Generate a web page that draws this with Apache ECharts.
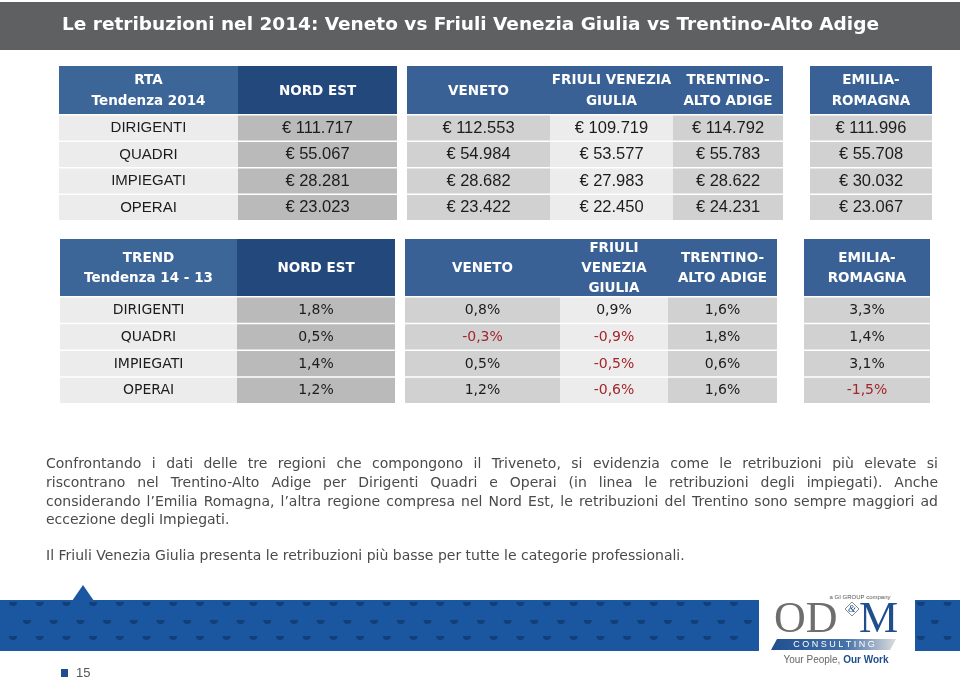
<!DOCTYPE html>
<html>
<head>
<meta charset="utf-8">
<script src="https://cdn.jsdelivr.net/npm/echarts@6/dist/echarts.min.js"></script>
<style>
  html, body { margin: 0; padding: 0; background: #fff; }
  #main { width: 960px; height: 681px; }
</style>
</head>
<body>
<div id="main"></div>
<script>
// dati
const titleText = 'Le retribuzioni nel 2014: Veneto vs Friuli Venezia Giulia vs Trentino-Alto Adige';
const rowLabels = ['DIRIGENTI', 'QUADRI', 'IMPIEGATI', 'OPERAI'];
const rtaCorner = 'RTA\nTendenza 2014';
const trendCorner = 'TREND\nTendenza 14 - 13';
const rtaHeaders = ['NORD EST', 'VENETO', 'FRIULI VENEZIA\nGIULIA', 'TRENTINO-\nALTO ADIGE', 'EMILIA-\nROMAGNA'];
const trendHeaders = ['NORD EST', 'VENETO', 'FRIULI\nVENEZIA\nGIULIA', 'TRENTINO-\nALTO ADIGE', 'EMILIA-\nROMAGNA'];

// RTA 2014 (euro)
const rtaNordEst = [111717, 55067, 28281, 23023];
const rtaVeneto = [112553, 54984, 28682, 23422];
const rtaFriuli = [109719, 53577, 27983, 22450];
const rtaTrentino = [114792, 55783, 28622, 24231];
const rtaEmilia = [111996, 55708, 30032, 23067];

// trend 14 - 13 (%)
const trendNordEst = [1.8, 0.5, 1.4, 1.2];
const trendVeneto = [0.8, -0.3, 0.5, 1.2];
const trendFriuli = [0.9, -0.9, -0.5, -0.6];
const trendTrentino = [1.6, 1.8, 0.6, 1.6];
const trendEmilia = [3.3, 1.4, 3.1, -1.5];

const noteLines = [
  'Confrontando i dati delle tre regioni che compongono il Triveneto, si evidenzia come le retribuzioni più elevate si',
  'riscontrano nel Trentino-Alto Adige per Dirigenti Quadri e Operai (in linea le retribuzioni degli impiegati). Anche',
  'considerando l’Emilia Romagna, l’altra regione compresa nel Nord Est, le retribuzioni del Trentino sono sempre maggiori ad',
  'eccezione degli Impiegati.',
  'Il Friuli Venezia Giulia presenta le retribuzioni più basse per tutte le categorie professionali.'
];
const pageNumber = '15';

// formattazione
const fmtEuro = v => '€ ' + String(v).replace(/\B(?=(\d{3})+(?!\d))/g, '.');
const fmtPct = v => v.toFixed(1).replace('.', ',') + '%';

const BLUE_HEAD = '#3a6196';
const BLUE_DARK = '#23497c';
const NEG = '#a3262c';
const bodyFills = ['#ececec', '#bababa', '#d1d1d1', '#ececec', '#d1d1d1', '#d1d1d1'];
const headFills = ['#3c6598', BLUE_DARK, BLUE_HEAD, BLUE_HEAD, BLUE_HEAD, BLUE_HEAD];

const tables = [
  {
    corner: rtaCorner, headers: rtaHeaders,
    series: [rtaNordEst, rtaVeneto, rtaFriuli, rtaTrentino, rtaEmilia], fmt: fmtEuro,
    headTop: 66, headBottom: 114, bottom: 220, headLine: 21,
    cols: [[59, 238], [238, 397], [407, 550], [550, 673], [673, 783], [810, 932]],
    labelFont: '"Liberation Sans", sans-serif', labelSize: 15,
    valueFont: '"Liberation Sans", sans-serif', valueSize: 16.5
  },
  {
    corner: trendCorner, headers: trendHeaders,
    series: [trendNordEst, trendVeneto, trendFriuli, trendTrentino, trendEmilia], fmt: fmtPct,
    headTop: 239, headBottom: 296, bottom: 403, headLine: 20,
    cols: [[60, 237], [237, 395], [405, 560], [560, 668], [668, 777], [804, 930]],
    labelFont: '"DejaVu Sans", sans-serif', labelSize: 14,
    valueFont: '"DejaVu Sans", sans-serif', valueSize: 14
  }
];

const grids = [], xAxes = [], yAxes = [], series = [];
const elements = [];

// barra del titolo
elements.push({ type: 'rect', shape: { x: 0, y: 2, width: 960, height: 48 }, style: { fill: '#5f6062' }, silent: true });
elements.push({
  type: 'text', x: 62, y: 25,
  style: { text: titleText, fill: '#fff', fontSize: 18.5, fontWeight: 'bold', fontFamily: '"DejaVu Sans", sans-serif', align: 'left', verticalAlign: 'middle' }
});

tables.forEach(t => {
  t.cols.forEach((c, ci) => {
    // intestazione
    elements.push({ type: 'rect', shape: { x: c[0], y: t.headTop, width: c[1] - c[0], height: t.headBottom - t.headTop }, style: { fill: headFills[ci] }, silent: true });
    elements.push({
      type: 'text', x: (c[0] + c[1]) / 2, y: (t.headTop + t.headBottom) / 2 + 1,
      style: {
        text: ci === 0 ? t.corner : t.headers[ci - 1], fill: '#fff', fontSize: 13.5, fontWeight: 'bold',
        fontFamily: '"DejaVu Sans", sans-serif', align: 'center', verticalAlign: 'middle', lineHeight: t.headLine
      }
    });

    // celle: una griglia per colonna, righe su asse a categorie
    const gi = grids.length;
    grids.push({ left: c[0], width: c[1] - c[0], top: t.headBottom, height: t.bottom - t.headBottom });
    xAxes.push({ type: 'category', gridIndex: gi, data: ['c'], show: false });
    yAxes.push({ type: 'category', gridIndex: gi, data: rowLabels, inverse: true, show: false });
    const values = ci === 0 ? rowLabels.map(() => 0) : t.series[ci - 1];
    series.push({
      type: 'custom', xAxisIndex: gi, yAxisIndex: gi, silent: true,
      data: values.map((v, i) => [0, i, v]),
      renderItem: (params, api) => {
        const p = api.coord([api.value(0), api.value(1)]);
        const s = api.size([1, 1]);
        const v = api.value(2);
        const label = ci === 0 ? rowLabels[api.value(1)] : t.fmt(v);
        return {
          type: 'group',
          children: [
            { type: 'rect', shape: { x: p[0] - s[0] / 2, y: p[1] - s[1] / 2 + 1.5, width: s[0], height: s[1] - 1.5 }, style: { fill: bodyFills[ci] } },
            {
              type: 'text', x: p[0], y: p[1] + 1,
              style: {
                text: label, fill: ci > 0 && v < 0 ? NEG : '#1c1c1c',
                fontSize: ci === 0 ? t.labelSize : t.valueSize,
                fontFamily: ci === 0 ? t.labelFont : t.valueFont,
                align: 'center', verticalAlign: 'middle'
              }
            }
          ]
        };
      }
    });
  });
});

// testo di commento, giustificato
const paraFont = '"DejaVu Sans", sans-serif';
const paraSize = 14;
const measure = document.createElement('canvas').getContext('2d');
measure.font = paraSize + 'px ' + paraFont;
const paraLeft = 46, paraRight = 938;
const lineY = [464, 483, 502, 520, 556];
const justified = [true, true, true, false, false];
noteLines.forEach((ln, li) => {
  if (!justified[li]) {
    elements.push({ type: 'text', x: paraLeft, y: lineY[li], style: { text: ln, fill: '#4a4a4a', fontSize: paraSize, fontFamily: paraFont, align: 'left', verticalAlign: 'middle' } });
    return;
  }
  const words = ln.split(' ');
  const widths = words.map(w => measure.measureText(w).width);
  const total = widths.reduce((a, b) => a + b, 0);
  const gap = (paraRight - paraLeft - total) / (words.length - 1);
  let x = paraLeft;
  words.forEach((w, wi) => {
    elements.push({ type: 'text', x: x, y: lineY[li], style: { text: w, fill: '#4a4a4a', fontSize: paraSize, fontFamily: paraFont, align: 'left', verticalAlign: 'middle' } });
    x += widths[wi] + gap;
  });
});

// fascia blu in basso
const bandFill = '#1b56a1';
const dotFill = '#123f78';
[[0, 759], [915, 960]].forEach(b => {
  elements.push({ type: 'rect', shape: { x: b[0], y: 600, width: b[1] - b[0], height: 51 }, style: { fill: bandFill }, silent: true });
  const rows = [[602, 13], [620, 27], [636, 13]];
  rows.forEach(r => {
    for (let x = r[1]; x < 960; x += 26.7) {
      if (x - 4 < b[0] || x + 4 > b[1]) continue;
      elements.push({ type: 'sector', shape: { cx: x, cy: r[0], r: 4, r0: 0, startAngle: 0, endAngle: Math.PI, clockwise: true }, style: { fill: dotFill }, silent: true });
    }
  });
});
elements.push({ type: 'polygon', shape: { points: [[72, 601], [83, 585], [94, 601]] }, style: { fill: bandFill }, silent: true });

// logo
elements.push({ type: 'text', x: 860, y: 597, style: { text: 'a GI GROUP company', fill: '#555', fontSize: 6, fontFamily: '"Liberation Sans", sans-serif', align: 'center', verticalAlign: 'middle' } });
elements.push({ type: 'text', x: 774, y: 620, style: { text: 'OD', fill: '#6e6e6e', fontSize: 44, fontFamily: '"Liberation Serif", serif', align: 'left', verticalAlign: 'middle' } });
elements.push({ type: 'polygon', shape: { points: [[852, 602], [859, 609], [852, 616], [845, 609]] }, style: { fill: '#fff', stroke: '#8a8a8a', lineWidth: 1 }, silent: true });
elements.push({ type: 'text', x: 852, y: 609, style: { text: '&', fill: '#1f4e8c', fontSize: 10, fontStyle: 'italic', fontFamily: '"Liberation Serif", serif', align: 'center', verticalAlign: 'middle' } });
elements.push({ type: 'text', x: 898, y: 620, style: { text: 'M', fill: '#1f4e8c', fontSize: 44, fontFamily: '"Liberation Serif", serif', align: 'right', verticalAlign: 'middle' } });
elements.push({
  type: 'polygon', shape: { points: [[771, 650], [777, 639], [896, 639], [890, 650]] },
  style: { fill: new echarts.graphic.LinearGradient(0, 0, 1, 0, [{ offset: 0, color: '#1f4f8e' }, { offset: 0.6, color: '#4672aa' }, { offset: 1, color: '#dcdcdc' }]) }, silent: true
});
elements.push({ type: 'text', x: 834, y: 645, style: { text: 'C O N S U L T I N G', fill: '#fff', fontSize: 9, fontFamily: '"Liberation Sans", sans-serif', align: 'center', verticalAlign: 'middle' } });
elements.push({
  type: 'text', x: 836, y: 660,
  style: {
    text: '{a|Your People, }{b|Our Work}', align: 'center', verticalAlign: 'middle',
    rich: {
      a: { fill: '#666', fontSize: 10, fontFamily: '"Liberation Sans", sans-serif' },
      b: { fill: '#1f4e8c', fontSize: 10, fontWeight: 'bold', fontFamily: '"Liberation Sans", sans-serif' }
    }
  }
});

// numero di pagina
elements.push({ type: 'rect', shape: { x: 61, y: 669, width: 7, height: 8 }, style: { fill: '#1f4e8c' }, silent: true });
elements.push({ type: 'text', x: 76, y: 673, style: { text: pageNumber, fill: '#555', fontSize: 13, fontFamily: '"Liberation Sans", sans-serif', align: 'left', verticalAlign: 'middle' } });

const chart = echarts.init(document.getElementById('main'));
chart.setOption({
  backgroundColor: '#fff',
  animation: false,
  grid: grids,
  xAxis: xAxes,
  yAxis: yAxes,
  series: series,
  graphic: { elements: elements }
});
</script>
</body>
</html>
